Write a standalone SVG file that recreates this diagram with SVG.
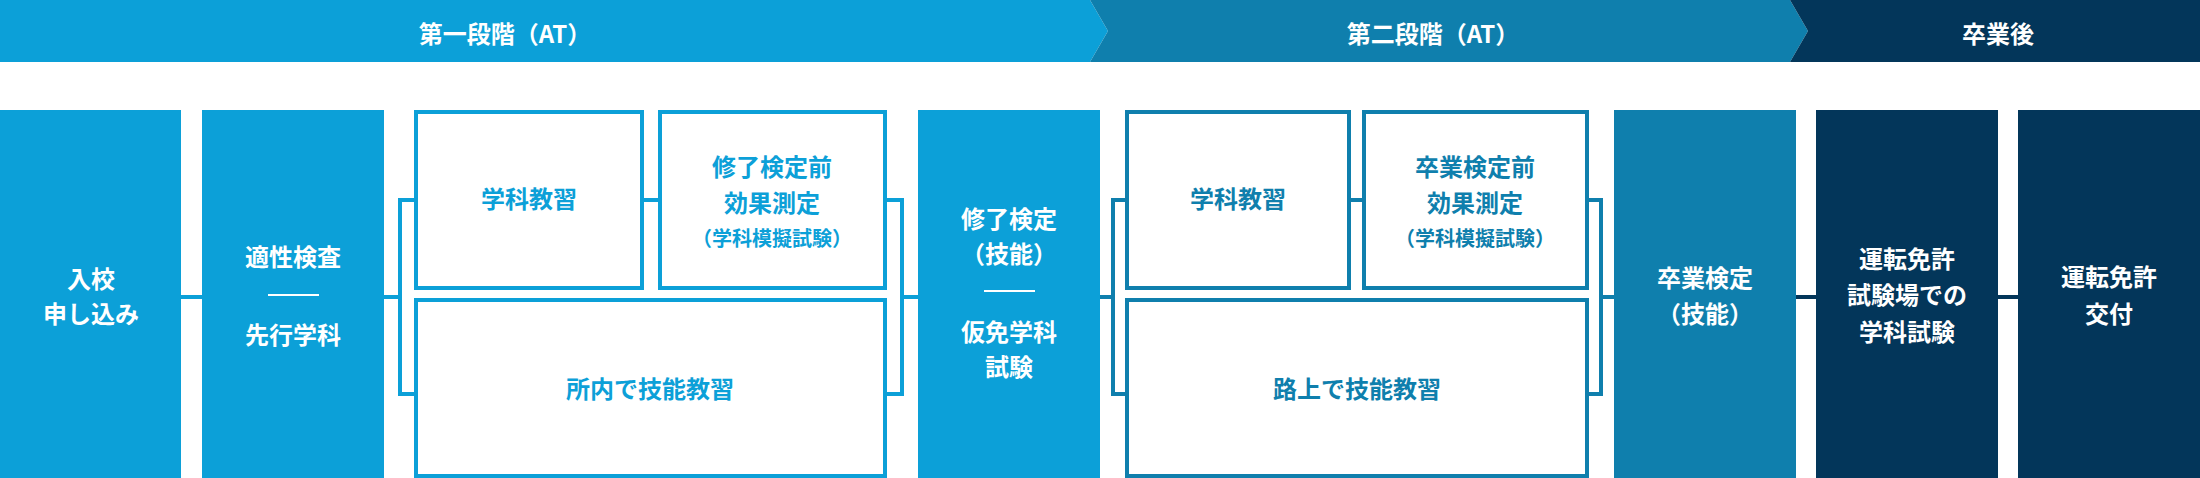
<svg xmlns="http://www.w3.org/2000/svg" width="2200" height="478" viewBox="0 0 2200 478">
<style>
text{font-family:"Noto Sans CJK JP","Noto Sans",sans-serif;font-weight:bold;text-anchor:middle;dominant-baseline:central}
.w{fill:#fff;font-size:24px}
.c1{fill:#0ca0d8;font-size:24px}
.c2{fill:#0f7fad;font-size:24px}
.s{font-size:20px}
.o1{fill:#fff;stroke:#0ca0d8;stroke-width:4}
.o2{fill:#fff;stroke:#0f7fad;stroke-width:4}
.l1{stroke:#0ca0d8;stroke-width:4;fill:none}
.l2{stroke:#0f7fad;stroke-width:4;fill:none}
.l3{stroke:#03365a;stroke-width:4;fill:none}
.d{stroke:#fff;stroke-width:2}
</style>
<g id="header">
<polygon points="0,0 1090,0 1108,31 1090,62 0,62" fill="#0ca0d8"/>
<polygon points="1090,0 1790,0 1808,31 1790,62 1090,62 1108,31" fill="#0f7fad"/>
<polygon points="1790,0 2200,0 2200,62 1790,62 1808,31" fill="#03365a"/>
<text class="w" x="505" y="32">第一段階（AT）</text>
<text class="w" x="1433" y="32">第二段階（AT）</text>
<text class="w" x="1998" y="32">卒業後</text>
</g>
<g id="connectors">
<line class="l1" x1="181" y1="297" x2="202" y2="297"/>
<line class="l1" x1="384" y1="297" x2="400" y2="297"/>
<polyline class="l1" points="414,200 400,200 400,394 414,394"/>
<line class="l1" x1="644" y1="200" x2="658" y2="200"/>
<polyline class="l1" points="887,200 902,200 902,394 887,394"/>
<line class="l1" x1="902" y1="297" x2="918" y2="297"/>
<line class="l2" x1="1100" y1="297" x2="1113" y2="297"/>
<polyline class="l2" points="1125,200 1113,200 1113,394 1125,394"/>
<line class="l2" x1="1351" y1="200" x2="1362" y2="200"/>
<polyline class="l2" points="1589,200 1601,200 1601,394 1589,394"/>
<line class="l2" x1="1601" y1="297" x2="1614" y2="297"/>
<line class="l3" x1="1796" y1="297" x2="1816" y2="297"/>
<line class="l3" x1="1998" y1="297" x2="2018" y2="297"/>
</g>
<g id="n1"><rect x="0" y="110" width="181" height="368" fill="#0ca0d8"/><text class="w" x="91" y="277">入校</text><text class="w" x="91" y="312">申し込み</text></g>
<g id="n2"><rect x="202" y="110" width="182" height="368" fill="#0ca0d8"/><text class="w" x="293" y="255">適性検査</text><line class="d" x1="268" y1="295" x2="319" y2="295"/><text class="w" x="293" y="333">先行学科</text></g>
<g id="n3"><rect class="o1" x="416" y="112" width="226" height="176"/><text class="c1" x="529" y="197">学科教習</text></g>
<g id="n4"><rect class="o1" x="660" y="112" width="225" height="176"/><text class="c1" x="772" y="165">修了検定前</text><text class="c1" x="772" y="201">効果測定</text><text class="c1 s" x="772" y="237">（学科模擬試験）</text></g>
<g id="n5"><rect class="o1" x="416" y="300" width="469" height="176"/><text class="c1" x="650" y="387">所内で技能教習</text></g>
<g id="n6"><rect x="918" y="110" width="182" height="368" fill="#0ca0d8"/><text class="w" x="1009" y="217">修了検定</text><text class="w" x="1009" y="252">（技能）</text><line class="d" x1="984" y1="291" x2="1035" y2="291"/><text class="w" x="1009" y="330">仮免学科</text><text class="w" x="1009" y="365">試験</text></g>
<g id="n7"><rect class="o2" x="1127" y="112" width="222" height="176"/><text class="c2" x="1238" y="197">学科教習</text></g>
<g id="n8"><rect class="o2" x="1364" y="112" width="223" height="176"/><text class="c2" x="1475" y="165">卒業検定前</text><text class="c2" x="1475" y="201">効果測定</text><text class="c2 s" x="1475" y="237">（学科模擬試験）</text></g>
<g id="n9"><rect class="o2" x="1127" y="300" width="460" height="176"/><text class="c2" x="1357" y="387">路上で技能教習</text></g>
<g id="n10"><rect x="1614" y="110" width="182" height="368" fill="#0f7fad"/><text class="w" x="1705" y="276">卒業検定</text><text class="w" x="1705" y="312">（技能）</text></g>
<g id="n11"><rect x="1816" y="110" width="182" height="368" fill="#03365a"/><text class="w" x="1907" y="257">運転免許</text><text class="w" x="1907" y="293">試験場での</text><text class="w" x="1907" y="330">学科試験</text></g>
<g id="n12"><rect x="2018" y="110" width="182" height="368" fill="#03365a"/><text class="w" x="2109" y="275">運転免許</text><text class="w" x="2109" y="312">交付</text></g>
</svg>
